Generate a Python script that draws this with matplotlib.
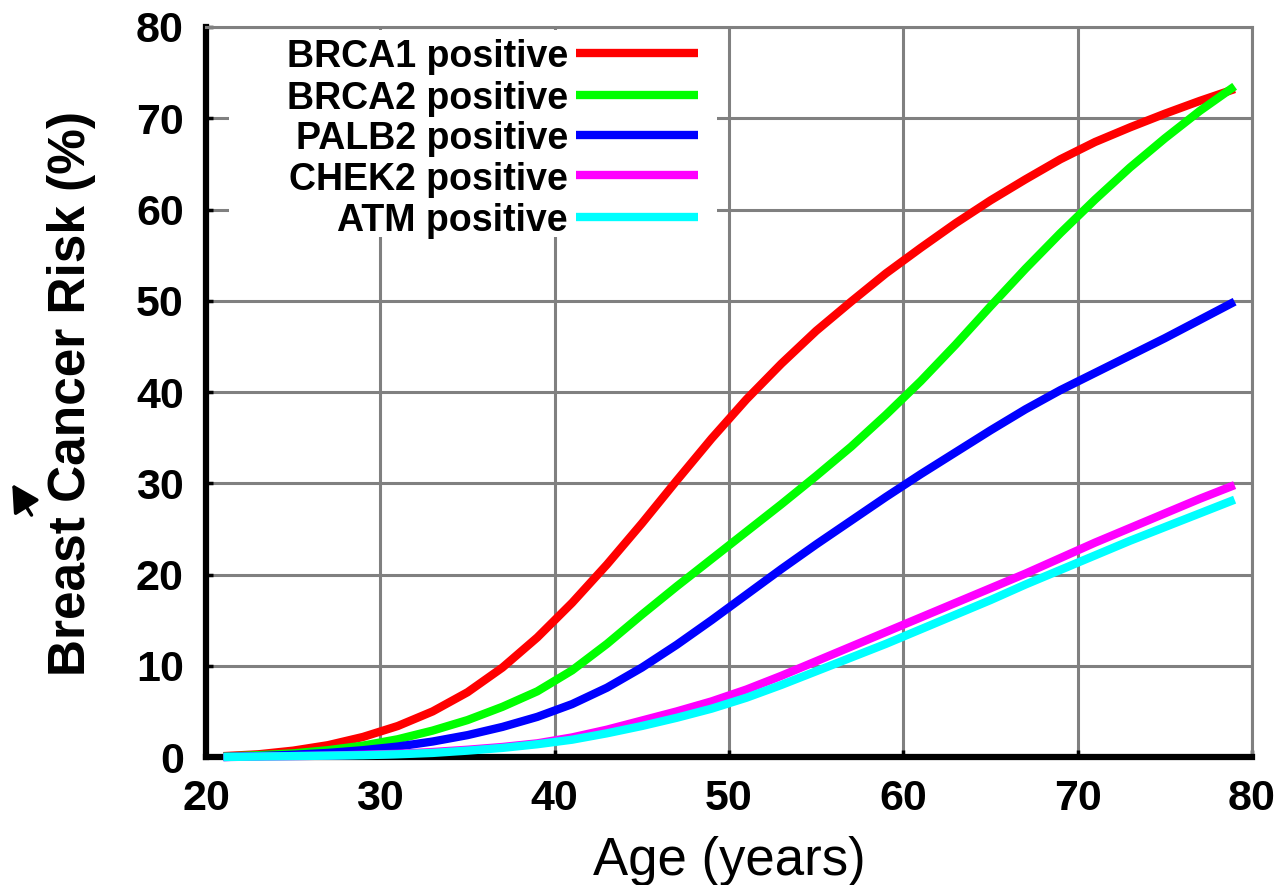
import matplotlib
matplotlib.use("Agg")
import matplotlib.pyplot as plt
from matplotlib.patches import Rectangle, FancyArrowPatch

plt.rcParams['font.family'] = ['Liberation Sans', 'DejaVu Sans']

# Age grid (years)
ages = [21, 23, 25, 27, 29, 31, 33, 35, 37, 39, 41, 43, 45, 47, 49,
        51, 53, 55, 57, 59, 61, 63, 65, 67, 69, 71, 73, 75, 77, 79]

# Cumulative breast cancer risk (%) by carrier status
brca1 = [0.1, 0.3, 0.7, 1.3, 2.2, 3.4, 5.0, 7.1, 9.8, 13.1, 16.9, 21.1, 25.6, 30.3, 34.9,
         39.2, 43.1, 46.7, 49.9, 53.0, 55.8, 58.5, 61.0, 63.3, 65.5, 67.4, 69.0, 70.5, 71.9, 73.2]
brca2 = [0.05, 0.2, 0.4, 0.75, 1.25, 1.95, 2.9, 4.05, 5.5, 7.2, 9.5, 12.4, 15.6, 18.7, 21.7,
         24.7, 27.7, 30.8, 34.0, 37.5, 41.2, 45.2, 49.4, 53.5, 57.4, 61.1, 64.6, 67.8, 70.8, 73.5]
palb2 = [0.0, 0.1, 0.25, 0.45, 0.75, 1.15, 1.7, 2.4, 3.3, 4.4, 5.8, 7.6, 9.8, 12.3, 15.0,
         17.8, 20.6, 23.3, 25.9, 28.5, 31.0, 33.4, 35.8, 38.1, 40.2, 42.1, 44.0, 45.9, 47.9, 49.9]
chek2 = [0.0, 0.05, 0.1, 0.15, 0.25, 0.35, 0.55, 0.8, 1.1, 1.5, 2.15, 3.0, 4.0, 5.0, 6.1,
         7.4, 8.9, 10.5, 12.1, 13.7, 15.3, 16.9, 18.5, 20.1, 21.8, 23.5, 25.1, 26.7, 28.3, 29.8]
atm = [0.0, 0.05, 0.1, 0.15, 0.2, 0.3, 0.45, 0.7, 1.0, 1.4, 1.9, 2.6, 3.4, 4.3, 5.3,
       6.5, 7.9, 9.4, 10.9, 12.4, 14.0, 15.6, 17.2, 18.9, 20.5, 22.1, 23.7, 25.2, 26.7, 28.2]

series_labels = ["BRCA1 positive", "BRCA2 positive", "PALB2 positive",
                 "CHEK2 positive", "ATM positive"]
series_values = [brca1, brca2, palb2, chek2, atm]
series_colors = ["#ff0000", "#00ff00", "#0000ff", "#ff00ff", "#00ffff"]

x_ticks = [20, 30, 40, 50, 60, 70, 80]
y_ticks = [0, 10, 20, 30, 40, 50, 60, 70, 80]

fig = plt.figure(figsize=(12.86, 8.85), dpi=100)
ax = fig.add_axes([0.1602, 0.1446, 0.8134, 0.8249])
ax.set_xlim(20, 80)
ax.set_ylim(0, 80)
ax.set_xticks(x_ticks)
ax.set_yticks(y_ticks)
ax.set_axisbelow(True)
ax.grid(True, color="#808080", linewidth=2.2)

for side in ("top", "right"):
    ax.spines[side].set_color("#808080")
    ax.spines[side].set_linewidth(2.2)
for side in ("left", "bottom"):
    ax.spines[side].set_color("black")
    ax.spines[side].set_linewidth(4.5)

ax.tick_params(direction="in", length=5, width=2.5, color="black",
               labelsize=31, pad=16)
for lab in ax.get_xticklabels() + ax.get_yticklabels():
    lab.set_fontweight("bold")

for vals, col in zip(series_values, series_colors):
    ax.plot(ages, vals, color=col, linewidth=6, solid_capstyle="butt",
            solid_joinstyle="round", clip_on=False, zorder=3)

# key block with white backing in the upper left
ax.add_patch(Rectangle((0.022, 0.712), 0.4665, 0.284, transform=ax.transAxes,
                       facecolor="white", edgecolor="none", zorder=1))
row_y = [0.9644, 0.9075, 0.8521, 0.7966, 0.7404]
for lab, col, yy in zip(series_labels, series_colors, row_y):
    ax.text(0.3461, yy - 0.0195, lab, transform=ax.transAxes, ha="right",
            va="baseline", fontsize=27, fontweight="bold", zorder=4)
    ax.plot([0.3537, 0.4704], [yy, yy], transform=ax.transAxes, color=col,
            linewidth=6, solid_capstyle="butt", zorder=4)

ax.set_xlabel("Age (years)", fontsize=38)
ax.xaxis.label.set_va("baseline")
ax.xaxis.set_label_coords(0.5, -0.1616)

ax.set_ylabel("Breast Cancer Risk (%)", fontsize=37, fontweight="bold")
ax.yaxis.label.set_va("baseline")
ax.yaxis.label.set_rotation_mode("anchor")
ax.yaxis.set_label_coords(-0.1157, 0.4986)

fig.add_artist(FancyArrowPatch((0.0245, 0.4180), (0.0095, 0.4530),
                               transform=fig.transFigure,
                               arrowstyle="-|>,head_length=0.55,head_width=0.3",
                               mutation_scale=30, linewidth=2.5, color="black",
                               shrinkA=0, shrinkB=0))

fig.savefig("out.png", dpi=100)
